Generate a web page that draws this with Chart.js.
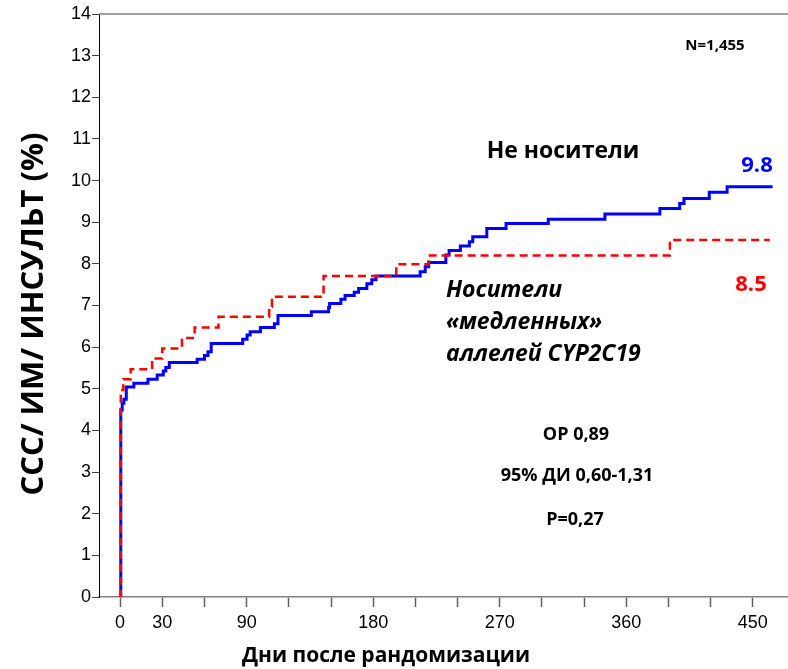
<!DOCTYPE html>
<html>
<head>
<meta charset="utf-8">
<script src="https://cdn.jsdelivr.net/npm/chart.js@4.4.1/dist/chart.umd.min.js"></script>
<style>
  html, body { margin: 0; padding: 0; background: #fff; }
  #wrap { width: 788px; height: 669px; position: relative; }
</style>
</head>
<body>
<div id="wrap"><canvas id="chart"></canvas></div>
<script>
// Kaplan-Meier style curves (day, cumulative %)
const blueDays = [0, 0.5, 1.5, 2.7, 4.4, 9.8, 19.8, 26.4, 30.7, 32.5, 35, 54.8, 60, 62.5, 64.8,
  87.2, 90.3, 92.5, 99.8, 109.7, 112.3, 136, 148.3, 149, 157, 160, 166.5, 169.6, 175.5, 179, 182,
  213.4, 217, 219.5, 231.7, 234, 242, 248.4, 250.8, 260.8, 274.5, 304.5, 344.8, 383.9, 398, 401,
  419, 431.7, 464];
const blueValues = [0, 4.49, 4.65, 4.75, 5.04, 5.13, 5.23, 5.33, 5.43, 5.51, 5.63, 5.71, 5.80, 5.89, 6.09,
  6.19, 6.29, 6.37, 6.47, 6.56, 6.76, 6.85, 6.95, 7.05, 7.15, 7.24, 7.32, 7.41, 7.52, 7.62, 7.71,
  7.81, 7.93, 8.03, 8.21, 8.32, 8.43, 8.53, 8.65, 8.85, 8.97, 9.07, 9.20, 9.33, 9.45, 9.57,
  9.72, 9.85, 9.85];

const redDays = [0, 0.5, 2.3, 7.5, 22.8, 30, 44, 53, 70, 106, 108, 144.7, 196.4, 219.3, 391, 462];
const redValues = [0, 4.97, 5.23, 5.47, 5.73, 5.97, 6.22, 6.47, 6.73, 6.97, 7.21, 7.71, 7.99, 8.2, 8.57, 8.57];

const xTickValues = [0, 30, 60, 90, 120, 150, 180, 210, 240, 270, 300, 330, 360, 390, 420, 450];
const xTickLabels = [0, 30, 90, 180, 270, 360, 450];
const yTickValues = [0, 1, 2, 3, 4, 5, 6, 7, 8, 9, 10, 11, 12, 13, 14];

function toPoints(days, values) {
  return days.map((d, i) => ({ x: d, y: values[i] }));
}

// text drawn on top of the chart
const notes = [
  { text: "N=1,455", x: 715, y: 46, font: "bold 15px 'Open Sans'", color: "#000" },
  { text: "Не носители", x: 563, y: 151, font: "bold 23px 'Open Sans'", color: "#000" },
  { text: "9.8", x: 757, y: 166, font: "bold 22px 'Open Sans'", color: "#0000ff" },
  { text: "8.5", x: 751, y: 285, font: "bold 22px 'Open Sans'", color: "#ff0000" },
  { text: "Носители", x: 446, y: 290, font: "italic bold 23px 'Open Sans'", color: "#000", align: "left" },
  { text: "«медленных»", x: 446, y: 322, font: "italic bold 23px 'Open Sans'", color: "#000", align: "left" },
  { text: "аллелей CYP2C19", x: 446, y: 354, font: "italic bold 23px 'Open Sans'", color: "#000", align: "left" },
  { text: "ОР 0,89", x: 576, y: 435, font: "bold 18px 'Open Sans'", color: "#000" },
  { text: "95% ДИ 0,60-1,31", x: 577, y: 476, font: "bold 18px 'Open Sans'", color: "#000" },
  { text: "Р=0,27", x: 575, y: 520, font: "bold 18px 'Open Sans'", color: "#000" },
  { text: "Дни после рандомизации", x: 386, y: 656, font: "bold 21px 'Open Sans'", color: "#000" }
];

const extras = {
  id: "extras",
  afterDraw(chart) {
    const ctx = chart.ctx;
    const area = chart.chartArea;
    ctx.save();
    // top frame line
    ctx.strokeStyle = "#808080";
    ctx.lineWidth = 1.5;
    ctx.beginPath();
    ctx.moveTo(area.left, area.top);
    ctx.lineTo(area.right, area.top);
    ctx.stroke();

    ctx.textBaseline = "middle";
    notes.forEach(n => {
      ctx.font = n.font;
      ctx.fillStyle = n.color;
      ctx.textAlign = n.align || "center";
      ctx.fillText(n.text, n.x, n.y);
    });

    // y axis title, rotated
    ctx.translate(34, 314);
    ctx.rotate(-Math.PI / 2);
    ctx.font = "bold 31px 'Open Sans'";
    ctx.fillStyle = "#000";
    ctx.textAlign = "center";
    ctx.fillText("ССС/ ИМ/ ИНСУЛЬТ (%)", 0, 0);
    ctx.restore();
  }
};

new Chart(document.getElementById("chart"), {
  type: "line",
  data: {
    datasets: [
      {
        label: "Носители «медленных» аллелей CYP2C19",
        data: toPoints(redDays, redValues),
        borderColor: "#ff0000",
        borderWidth: 2.5,
        borderDash: [8, 5],
        stepped: true,
        pointRadius: 0,
        fill: false
      },
      {
        label: "Не носители",
        data: toPoints(blueDays, blueValues),
        borderColor: "#0000ff",
        borderWidth: 3,
        stepped: true,
        pointRadius: 0,
        fill: false
      }
    ]
  },
  options: {
    responsive: true,
    maintainAspectRatio: false,
    animation: false,
    layout: { padding: { top: 14, right: 0, left: 0, bottom: 0 } },
    plugins: {
      legend: { display: false },
      tooltip: { enabled: false }
    },
    scales: {
      x: {
        type: "linear",
        min: -15,
        max: 475,
        afterFit: s => { s.height = 72; },
        afterBuildTicks: s => { s.ticks = xTickValues.map(v => ({ value: v })); },
        grid: { drawOnChartArea: false, tickLength: 10, color: "#606060", tickWidth: 1.5 },
        border: { color: "#808080", width: 1.5 },
        ticks: {
          color: "#000",
          padding: 5,
          maxRotation: 0,
          autoSkip: false,
          font: { family: "'Liberation Sans', Arial", size: 18 },
          callback: v => xTickLabels.includes(v) ? String(v) : ""
        }
      },
      y: {
        min: 0,
        max: 14,
        afterFit: s => { s.width = 99; },
        afterBuildTicks: s => { s.ticks = yTickValues.map(v => ({ value: v })); },
        grid: { drawOnChartArea: false, tickLength: 7, color: "#404040" },
        border: { color: "#000", width: 1 },
        ticks: {
          color: "#000",
          padding: 1,
          font: { family: "'Liberation Sans', Arial", size: 18 }
        }
      }
    }
  },
  plugins: [extras]
});
</script>
</body>
</html>
